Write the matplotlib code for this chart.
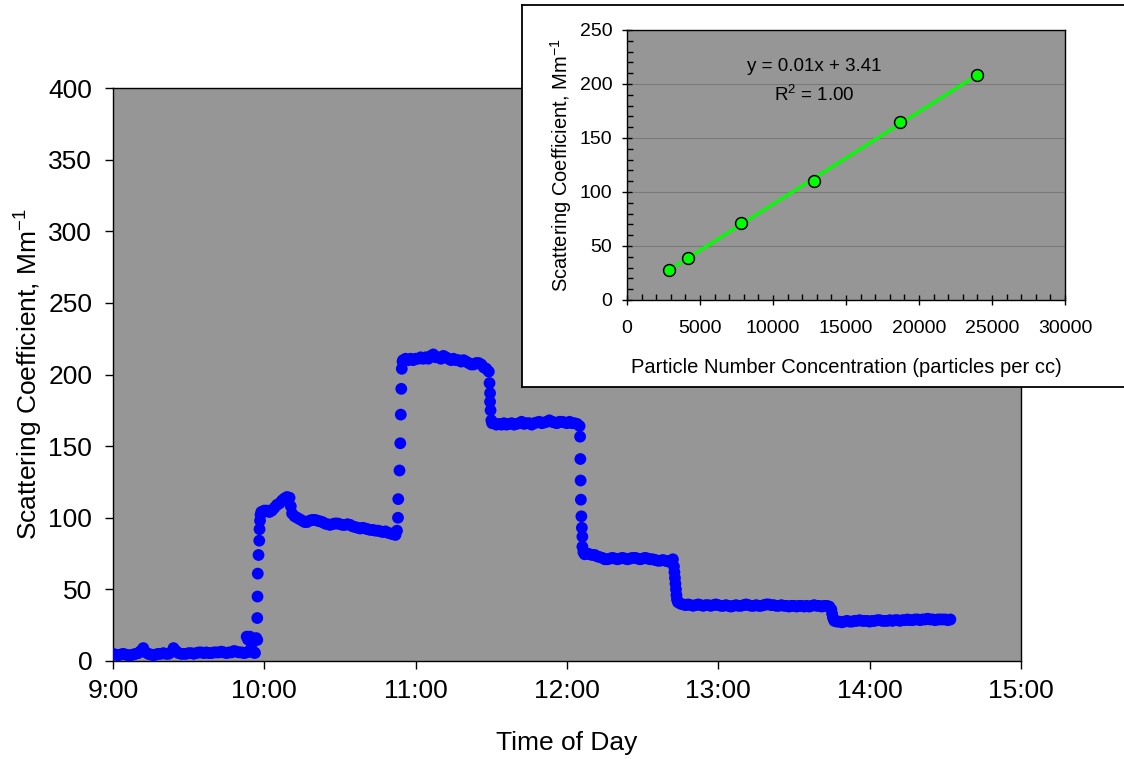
import matplotlib
matplotlib.use("Agg")
import matplotlib.pyplot as plt
import numpy as np

plt.rcParams['font.family'] = ['Liberation Sans', 'DejaVu Sans']
plt.rcParams['mathtext.fontset'] = 'custom'
plt.rcParams['mathtext.rm'] = 'Liberation Sans'
plt.rcParams['mathtext.it'] = 'Liberation Sans:italic'

# Scattering time series: minutes after 9:00, plateaus sampled every minute
base_start = 0
base_vals = [5, 4.5, 4, 4.5, 5, 4.5, 4, 4, 4.5, 5, 5.5, 7, 9, 6, 5, 4.5, 4, 4.5, 5, 5,
             5.5, 5, 5, 6, 9, 7, 5.5, 5, 5, 5, 5.5, 5.5, 5, 5.5, 6, 6, 5.5, 6, 5.5, 5.5,
             6, 6, 6, 6.5, 6, 5.5, 6, 6, 7, 6.5, 6, 6, 5.5, 6, 7, 6.5, 6]

step1_t = [53.0, 53.5, 54.3, 55.0, 55.5, 56.3, 56.8, 57.2, 57.2, 57.3, 57.4, 57.7, 58.0, 58.1, 58.3, 58.5, 58.8]
step1_v = [17, 15, 17, 12, 6, 5.6, 16, 14.7, 30, 45, 61, 74, 84, 92, 98, 102, 104]

first_start = 59
first_vals = [104, 105, 105, 104, 105, 107, 109, 110, 112, 113.5, 114.5, 114, 103, 101, 100, 99,
              98, 97, 97, 98, 98.5, 98.5, 98, 97.5, 97, 96, 95.5, 95, 95.5, 96, 96, 95.5, 95,
              95, 95.5, 95, 94, 93.5, 93, 92.5, 93, 92.5, 92, 91.5, 91.5, 91, 91, 90.5, 90,
              90.5, 89.5, 89, 88.5, 88]

step2_t = [70.5, 112.6, 113.0, 113.1, 113.6, 113.9, 114.1, 114.3, 114.5, 114.8]
step2_v = [108, 91, 100, 113, 133, 152, 172, 190, 204, 209]

second_start = 115
second_vals = [210, 211, 210, 211, 210, 211, 211, 212, 211, 212, 211, 213, 214, 212, 212, 211,
               213, 212, 211, 210, 211, 210, 210, 209, 210, 209, 208, 207, 207, 208, 208, 207,
               205, 204, 202]

step3_t = [149.3, 149.5, 149.5, 149.7, 150.0, 150.3]
step3_v = [194, 187, 181, 175, 168, 166]

third_start = 151
third_vals = [166, 165, 165.5, 165, 166, 165, 165.5, 166, 165, 165.5, 166, 167, 165.5, 166, 166,
              165, 166, 166.5, 167, 166, 166.5, 167, 168, 167, 166.5, 166, 167, 167, 166.5, 166,
              167, 166, 166, 165.5, 164]

step4_t = [185.2, 185.3, 185.4, 185.5, 185.7, 185.9, 186.1, 186.1, 186.5, 187.0]
step4_v = [156.6, 141, 126, 112.6, 101, 93, 86.8, 79.8, 76, 74.5]

fourth_start = 188
fourth_vals = [75, 74.5, 74, 74, 73, 72.5, 72, 71, 71, 71.5, 72, 71.5, 71, 71.5, 72, 71.5, 71,
               71.5, 72, 72, 71.5, 71, 71.5, 72, 71.5, 71, 71, 70.5, 70, 70, 70.5, 70, 69.5,
               70, 71]

step5_t = [222.4, 222.6, 222.8, 223.0, 223.2, 223.4, 223.6, 224.0]
step5_v = [66, 62, 58, 54, 50, 46, 43, 41]

fifth_start = 225
fifth_vals = [40, 39.5, 39, 39.5, 39, 38.5, 39, 39.5, 39, 38.5, 39, 39, 38.5, 39, 39.5, 39, 38.5,
              38.5, 39, 38.5, 38, 38.5, 39, 38.5, 38.5, 39, 39.5, 39, 38.5, 38.5, 39, 38.5, 38.5,
              39, 39.5, 39.5, 39, 39, 38.5, 38.5, 39, 38.5, 38.5, 38, 38.5, 38.5, 38, 38.5, 38.5,
              38, 38.5, 38, 38.5, 39, 38.5, 38.5, 38, 38.5, 38.5, 38]

step6_t = [284.8, 285.1, 285.4, 285.8]
step6_v = [36, 33, 30.5, 29]

sixth_start = 286
sixth_vals = [28, 27.5, 27.5, 27, 27.5, 28, 27.5, 27.5, 28, 28, 28.5, 28, 28, 28, 27.5, 28, 28,
              28.5, 28.5, 28, 28, 28, 28.5, 28, 28.5, 28.5, 28, 28.5, 28.5, 29, 28.5, 28.5, 29,
              29, 28.5, 29, 29, 29.5, 29, 29, 28.5, 29, 29, 29, 29, 28.5, 29]

# Inset calibration data
conc = [2900, 4200, 7800, 12800, 18700, 24000]
scat = [28, 39, 71, 110, 165, 208]

hour_ticks = [9, 10, 11, 12, 13, 14, 15]
hour_labels = ['9:00', '10:00', '11:00', '12:00', '13:00', '14:00', '15:00']

# assemble series
plateaus = [(base_start, base_vals), (first_start, first_vals), (second_start, second_vals),
            (third_start, third_vals), (fourth_start, fourth_vals), (fifth_start, fifth_vals),
            (sixth_start, sixth_vals)]
steps = [(step1_t, step1_v), (step2_t, step2_v), (step3_t, step3_v), (step4_t, step4_v),
         (step5_t, step5_v), (step6_t, step6_v)]
mins, vals = [], []
for start, v in plateaus:
    mins += list(start + np.arange(len(v)))
    vals += v
for t, v in steps:
    mins += t
    vals += v
hours = 9 + np.array(mins) / 60.0

fig = plt.figure(figsize=(11.24, 7.59), dpi=100)

ax = fig.add_axes([113 / 1124, 1 - 661 / 759, 908 / 1124, 573 / 759])
ax.set_facecolor('#969696')
ax.scatter(hours, vals, s=72, color='#0000FF', edgecolors='none', zorder=3)
ax.set_xlim(9, 15)
ax.set_ylim(0, 400)
ax.set_xticks(hour_ticks)
ax.set_xticklabels(hour_labels)
ax.set_yticks(range(0, 401, 50))
ax.tick_params(direction='out', length=6, width=1, labelsize=19, pad=9)
ax.tick_params(axis='x', pad=7)
for s in ax.spines.values():
    s.set_color('black')
    s.set_linewidth(1)
ax.set_xlabel('Time of Day', fontsize=19, labelpad=20)
ax.set_ylabel(r'Scattering Coefficient, Mm$^{\mathrm{-1}}$', fontsize=19, labelpad=2)

# white frame behind the inset
box = fig.add_axes([522 / 1124, 1 - 387 / 759, 0.6, 382 / 759])
box.set_facecolor('white')
box.set_xticks([])
box.set_yticks([])
for s in box.spines.values():
    s.set_color('black')
    s.set_linewidth(1.3)

ins = fig.add_axes([627 / 1124, 1 - 300 / 759, 438 / 1124, 270 / 759])
ins.set_facecolor('#969696')
ins.set_xlim(0, 30000)
ins.set_ylim(0, 250)
ins.set_xticks(range(0, 30001, 5000))
ins.set_yticks(range(0, 251, 50))
ins.set_xticks(range(0, 30001, 1000), minor=True)
ins.set_yticks(range(0, 251, 10), minor=True)
ins.grid(axis='y', which='major', color='#7a7a7a', linewidth=0.8)
ins.set_axisbelow(True)
ins.tick_params(which='major', direction='inout', length=7, width=1, labelsize=14, pad=7)
ins.tick_params(which='minor', direction='in', length=4, width=1)
ins.tick_params(axis='x', which='major', pad=11)
for s in ins.spines.values():
    s.set_color('black')
    s.set_linewidth(1)

slope, icpt = np.polyfit(conc, scat, 1)
xfit = np.array([min(conc), max(conc)])
ins.plot(xfit, slope * xfit + icpt, color='#00FF00', linewidth=2.3, zorder=3)
ins.plot(conc, scat, 'o', markersize=8.5, markerfacecolor='#00FF00', markeredgecolor='black',
         markeredgewidth=1.1, zorder=4)
ins.text(12800, 216, 'y = 0.01x + 3.41', ha='center', va='center', fontsize=13.5)
ins.text(12800, 190, r'R$^{\mathrm{2}}$ = 1.00', ha='center', va='center', fontsize=13.5)
ins.set_xlabel('Particle Number Concentration (particles per cc)', fontsize=14.5, labelpad=15)
ins.set_ylabel(r'Scattering Coefficient, Mm$^{\mathrm{-1}}$', fontsize=14.5, labelpad=4)

fig.savefig('out.png', dpi=100)
